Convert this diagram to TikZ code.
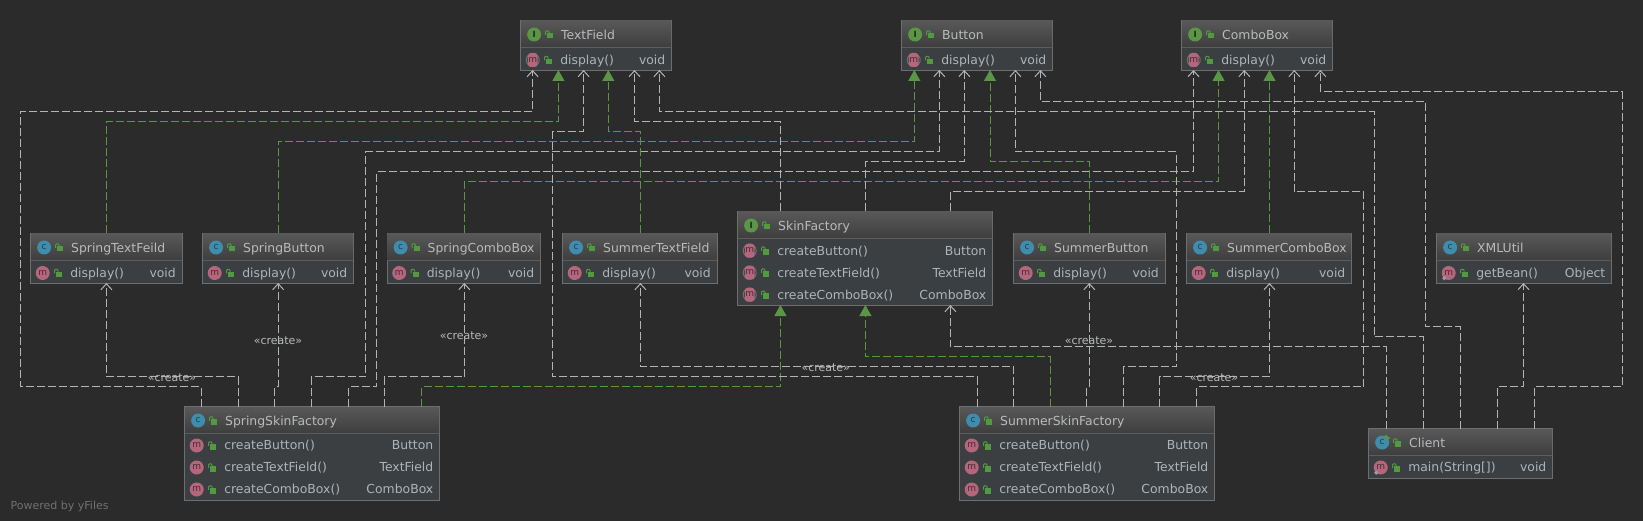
\documentclass[tikz,border=0pt]{standalone}
\usepackage{fontspec}
\setmainfont{DejaVu Sans}
\usetikzlibrary{arrows.meta,shapes.geometric}
\definecolor{bgc}{HTML}{2B2B2B}
\definecolor{bodyc}{HTML}{3C3F41}
\definecolor{hdtop}{HTML}{585858}
\definecolor{hdbot}{HTML}{3D3D3D}
\definecolor{edgec}{HTML}{6E6E6E}
\definecolor{divc}{HTML}{5C5C5C}
\definecolor{linec}{HTML}{B4B4B4}
\definecolor{greenc}{HTML}{5A9645}
\definecolor{lockc}{HTML}{529A3F}
\definecolor{tealc}{HTML}{3F8CAD}
\definecolor{pinkc}{HTML}{B4667C}
\definecolor{titlec}{HTML}{B8BABC}
\definecolor{textc}{HTML}{ACB4BA}
\definecolor{markc}{HTML}{6F7072}
\tikzset{
  umlboxshape/.style={draw=edgec,fill=bodyc,line width=1pt,inner sep=0pt,outer sep=0pt,anchor=north west},
  titletext/.style={text=titlec,inner sep=0pt,anchor=base west,font=\fontsize{12.4}{15}\selectfont},
  rowtext/.style={text=textc,inner sep=0pt,anchor=base west,font=\fontsize{12.4}{15}\selectfont},
  typetext/.style={text=textc,inner sep=0pt,anchor=base east,font=\fontsize{12.4}{15}\selectfont},
  icontext/.style={inner sep=0pt,anchor=center,font=\fontsize{9}{10}\selectfont},
  dep/.style={draw=linec,line width=1pt,dash pattern=on 8pt off 3pt,-{Straight Barb[length=6pt,width=11pt,line width=1pt]},shorten >=-0.5pt},
  impl/.style={draw=greenc,line width=1pt,dash pattern=on 8pt off 3pt,-{Triangle[length=11pt,width=12pt,fill=greenc]},shorten >=-0.5pt},
  createlabel/.style={text=titlec,inner sep=0pt,anchor=center,font=\fontsize{11}{13}\selectfont},
}
% lock glyph: #1 left x, #2 centre y
\newcommand\locksign[2]{%
  \fill[lockc] ({#1+2.3},{#2-1.3}) rectangle ({#1+8.3},{#2+4});
  \draw[lockc,line width=1pt] ({#1+0.5},{#2+0.3}) -- ({#1+0.5},{#2-2.5}) -- ({#1+1.5},{#2-3.7}) -- ({#1+3},{#2-3.7}) -- ({#1+4},{#2-2.5}) -- ({#1+4},{#2-1.3});
}
% #1 name, #2 x1, #3 y1, #4 x2, #5 y2, #6 divider y, #7 I/C/R, #8 title
\newcommand\umlbox[8]{%
  \node[umlboxshape,minimum width={(#4-#2)*1pt},minimum height={(#5-#3)*1pt}] (#1) at (#2,#3) {};
  \shade[top color=hdtop,bottom color=hdbot] ({#2+0.5},{#3+0.5}) rectangle ({#4-0.5},#6);
  \draw[divc,line width=1pt] ({#2+0.5},#6) -- ({#4-0.5},#6);
  \ifx#7I
    \fill[greenc] ({#2+13.6},{#3+14}) circle (7);
    \node[icontext,text=black!70!greenc,font=\fontsize{8.5}{10}\bfseries] (#1-icon) at ({#2+13.6},{#3+14}) {I};
  \else
    \fill[tealc] ({#2+13.6},{#3+14}) circle (7);
    \node[icontext,text=tealc!45!black] (#1-icon) at ({#2+13.6},{#3+13.5}) {c};
    \ifx#7R
      \fill[greenc] ({#2+16.5},{#3+6}) -- ({#2+22},{#3+9.5}) -- ({#2+16.5},{#3+13}) -- cycle;
    \fi
  \fi
  \locksign{#2+24.5}{#3+14}
  \node[titletext] (#1-title) at ({#2+40.5},{#3+18.8}) {#8};
}
% #1 name, #2 x1, #3 x2, #4 centre y, #5 kind (m,a,s), #6 method, #7 type
\newcommand\umlrow[7]{%
  \ifx#5a
    \draw[markc,line width=1pt] ({#2+12.2},#4) circle (6.5);
    \fill[pinkc,rounded corners=3pt] ({#2+7.4},{#4-7}) rectangle ({#2+17},{#4+7});
  \else
    \fill[pinkc] ({#2+12.2},#4) circle (7);
  \fi
  \node[icontext,text=pinkc!40!black] (#1-icon) at ({#2+12.2},{#4-0.5}) {m};
  \ifx#5s
    \fill[markc!70!white] ({#2+7.8},{#4+3}) -- ({#2+10},{#4+5.2}) -- ({#2+7.8},{#4+7.4}) -- ({#2+5.6},{#4+5.2}) -- cycle;
  \fi
  \locksign{#2+23.5}{#4}
  \node[rowtext] (#1-method) at ({#2+39.6},{#4+4.4}) {#6};
  \node[typetext] (#1-type) at ({#3-6},{#4+4.4}) {#7};
}
\begin{document}
\begin{tikzpicture}[x=1pt,y=-1pt]
\useasboundingbox (0,0) rectangle (1643,521);
\fill[bgc] (0,0) rectangle (1643,521);
\node[text=markc,inner sep=0pt,anchor=base west,font=\fontsize{11}{14}\selectfont] (powered) at (10.5,509.5) {Powered by yFiles};

% ---- classes
\umlbox{tf}{520.5}{20.5}{671.5}{70.5}{47.5}{I}{TextField}
\umlrow{tfa}{520.5}{671.5}{60}{a}{display()}{void}
\umlbox{bt}{901.5}{20.5}{1052.5}{70.5}{47.5}{I}{Button}
\umlrow{bta}{901.5}{1052.5}{60}{a}{display()}{void}
\umlbox{cb}{1181.5}{20.5}{1332.5}{70.5}{47.5}{I}{ComboBox}
\umlrow{cba}{1181.5}{1332.5}{60}{a}{display()}{void}

\umlbox{stf}{30.5}{233.5}{182}{283.5}{260.5}{C}{SpringTextFeild}
\umlrow{stfa}{30.5}{182}{273}{m}{display()}{void}
\umlbox{sbt}{202.5}{233.5}{353.5}{283.5}{260.5}{C}{SpringButton}
\umlrow{sbta}{202.5}{353.5}{273}{m}{display()}{void}
\umlbox{scb}{387}{233.5}{540.5}{283.5}{260.5}{C}{SpringComboBox}
\umlrow{scba}{387}{540.5}{273}{m}{display()}{void}
\umlbox{utf}{562.5}{233.5}{717}{283.5}{260.5}{C}{SummerTextField}
\umlrow{utfa}{562.5}{717}{273}{m}{display()}{void}
\umlbox{ubt}{1013.5}{233.5}{1165}{283.5}{260.5}{C}{SummerButton}
\umlrow{ubta}{1013.5}{1165}{273}{m}{display()}{void}
\umlbox{ucb}{1186.5}{233.5}{1351.5}{283.5}{260.5}{C}{SummerComboBox}
\umlrow{ucba}{1186.5}{1351.5}{273}{m}{display()}{void}
\umlbox{xml}{1436.5}{233.5}{1611.5}{283.5}{260.5}{C}{XMLUtil}
\umlrow{xmla}{1436.5}{1611.5}{273}{s}{getBean()}{Object}

\umlbox{sf}{737.5}{211.5}{992.5}{305.5}{238.5}{I}{SkinFactory}
\umlrow{sfa}{737.5}{992.5}{250.7}{a}{createButton()}{Button}
\umlrow{sfb}{737.5}{992.5}{272.7}{a}{createTextField()}{TextField}
\umlrow{sfc}{737.5}{992.5}{294.7}{a}{createComboBox()}{ComboBox}

\umlbox{ssf}{184.5}{406.5}{439.5}{500.5}{433.5}{C}{SpringSkinFactory}
\umlrow{ssfa}{184.5}{439.5}{445.5}{m}{createButton()}{Button}
\umlrow{ssfb}{184.5}{439.5}{467.5}{m}{createTextField()}{TextField}
\umlrow{ssfc}{184.5}{439.5}{489.5}{m}{createComboBox()}{ComboBox}

\umlbox{usf}{959.5}{406.5}{1214.5}{500.5}{433.5}{C}{SummerSkinFactory}
\umlrow{usfa}{959.5}{1214.5}{445.5}{m}{createButton()}{Button}
\umlrow{usfb}{959.5}{1214.5}{467.5}{m}{createTextField()}{TextField}
\umlrow{usfc}{959.5}{1214.5}{489.5}{m}{createComboBox()}{ComboBox}

\umlbox{cl}{1368.5}{428.5}{1552.5}{478.5}{455.5}{R}{Client}
\umlrow{cla}{1368.5}{1552.5}{467.5}{s}{main(String[])}{void}

% ---- connectors: SpringSkinFactory
\draw[dep] (201.4,0 |- ssf.north) -- (201.4,386.7) -- (20.7,386.7) -- (20.7,111.7) -- (532.6,111.7) -- (532.6,0 |- tf.south);
\draw[dep] (238.3,0 |- ssf.north) -- (238.3,376.7) -- (106.4,376.7) -- (106.4,0 |- stf.south);
\draw[dep] (274.3,0 |- ssf.north) -- (274.3,386.7) -- (278.2,386.7) -- (278.2,0 |- sbt.south);
\draw[dep] (311.3,0 |- ssf.north) -- (311.3,376.7) -- (365.4,376.7) -- (365.4,151.7) -- (939.3,151.7) -- (939.3,0 |- bt.south);
\draw[dep] (348.3,0 |- ssf.north) -- (348.3,386.7) -- (376.4,386.7) -- (376.4,171.7) -- (1193.5,171.7) -- (1193.5,0 |- cb.south);
\draw[dep] (384.3,0 |- ssf.north) -- (384.3,376.7) -- (464.3,376.7) -- (464.3,0 |- scb.south);
\draw[impl] (421.3,0 |- ssf.north) -- (421.3,386.7) -- (780.4,386.7) -- (780.4,0 |- sf.south);

% ---- connectors: products to interfaces
\draw[impl] (106.4,0 |- stf.north) -- (106.4,121.7) -- (558.4,121.7) -- (558.4,0 |- tf.south);
\draw[impl] (278.2,0 |- sbt.north) -- (278.2,141.7) -- (914.3,141.7) -- (914.3,0 |- bt.south);
\draw[impl] (464.3,0 |- scb.north) -- (464.3,181.7) -- (1218.5,181.7) -- (1218.5,0 |- cb.south);
\draw[impl] (640.4,0 |- utf.north) -- (640.4,131.7) -- (608.3,131.7) -- (608.3,0 |- tf.south);
\draw[impl] (1089.3,0 |- ubt.north) -- (1089.3,161.7) -- (990,161.7) -- (990,0 |- bt.south);
\draw[impl] (1269.5,0 |- ucb.north) -- (1269.5,0 |- cb.south);

% ---- connectors: SkinFactory
\draw[dep] (780.4,0 |- sf.north) -- (780.4,121.7) -- (634.5,121.7) -- (634.5,0 |- tf.south);
\draw[dep] (865.4,0 |- sf.north) -- (865.4,161.7) -- (964.3,161.7) -- (964.3,0 |- bt.south);
\draw[dep] (950.4,0 |- sf.north) -- (950.4,191.7) -- (1244.3,191.7) -- (1244.3,0 |- cb.south);

% ---- connectors: SummerSkinFactory
\draw[dep] (977.6,0 |- usf.north) -- (977.6,376.7) -- (552.5,376.7) -- (552.5,131.7) -- (583.6,131.7) -- (583.6,0 |- tf.south);
\draw[dep] (1013.7,0 |- usf.north) -- (1013.7,366.7) -- (640.4,366.7) -- (640.4,0 |- utf.south);
\draw[impl] (1050.6,0 |- usf.north) -- (1050.6,356.7) -- (865.4,356.7) -- (865.4,0 |- sf.south);
\draw[dep] (1086.4,0 |- usf.north) -- (1086.4,386.7) -- (1089.3,386.7) -- (1089.3,0 |- ubt.south);
\draw[dep] (1123.3,0 |- usf.north) -- (1123.3,366.7) -- (1176.4,366.7) -- (1176.4,151.7) -- (1015.4,151.7) -- (1015.4,0 |- bt.south);
\draw[dep] (1159.6,0 |- usf.north) -- (1159.6,376.7) -- (1269.5,376.7) -- (1269.5,0 |- ucb.south);
\draw[dep] (1196.4,0 |- usf.north) -- (1196.4,386.7) -- (1363.4,386.7) -- (1363.4,191.7) -- (1294.3,191.7) -- (1294.3,0 |- cb.south);

% ---- connectors: Client
\draw[dep] (1386.6,0 |- cl.north) -- (1386.6,346.7) -- (950.4,346.7) -- (950.4,0 |- sf.south);
\draw[dep] (1423.6,0 |- cl.north) -- (1423.6,336.7) -- (1374.3,336.7) -- (1374.3,111.7) -- (659.4,111.7) -- (659.4,0 |- tf.south);
\draw[dep] (1460.4,0 |- cl.north) -- (1460.4,326.7) -- (1425.4,326.7) -- (1425.4,101.7) -- (1040.4,101.7) -- (1040.4,0 |- bt.south);
\draw[dep] (1497.2,0 |- cl.north) -- (1497.2,386.7) -- (1523.5,386.7) -- (1523.5,0 |- xml.south);
\draw[dep] (1534.2,0 |- cl.north) -- (1534.2,386.7) -- (1622.3,386.7) -- (1622.3,91.7) -- (1320.4,91.7) -- (1320.4,0 |- cb.south);

% ---- labels
\node[createlabel] (c1) at (172,378) {«create»};
\node[createlabel] (c2) at (278,341) {«create»};
\node[createlabel] (c3) at (464,336) {«create»};
\node[createlabel] (c4) at (825.7,368) {«create»};
\node[createlabel] (c5) at (1089,341) {«create»};
\node[createlabel] (c6) at (1214,378) {«create»};
\end{tikzpicture}
\end{document}
